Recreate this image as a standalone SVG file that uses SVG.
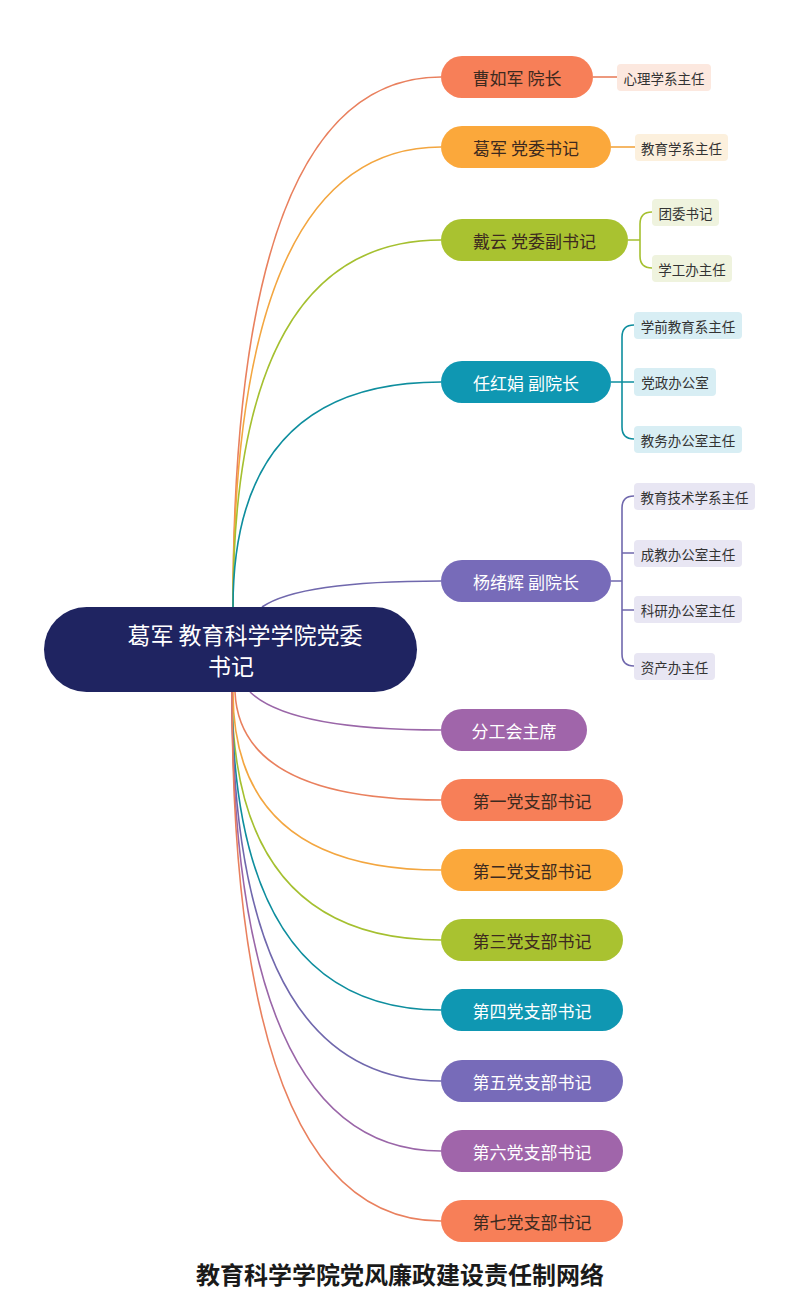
<svg xmlns="http://www.w3.org/2000/svg" width="800" height="1300" viewBox="0 0 800 1300">
<style>
text{font-family:"Noto Sans CJK SC","Noto Sans",sans-serif;text-anchor:middle;dominant-baseline:central}
.t1{font-size:17px}
.t2{font-size:13.5px;fill:#333}
.dk{fill:#3d2a1f}
.wt{fill:#ffffff}
.c{fill:none;stroke-width:1.6}
.root{fill:#1f2461}
.rt{font-size:23px;fill:#fff}
.title{font-size:24px;font-weight:bold;fill:#1a1a1a}
.coral{fill:#f77f58}.orange{fill:#fba83b}.green{fill:#a9c230}.teal{fill:#0f97b2}.blue{fill:#776bb9}.purple{fill:#a065aa}
.s-coral{stroke:#e9805e}.s-orange{stroke:#f3a640}.s-green{stroke:#a5c030}.s-teal{stroke:#0e8e9e}.s-blue{stroke:#7068ad}.s-purple{stroke:#9a66a8}
</style>
<rect width="800" height="1300" fill="#ffffff"/>
<g id="connectors">
<path class="c s-coral" d="M233,607 Q233,77 441,77"/>
<path class="c s-orange" d="M233,607 Q233,147 441,147"/>
<path class="c s-green" d="M233,607 Q233,240 441,240"/>
<path class="c s-teal" d="M233,607 Q233,382 441,382"/>
<path class="c s-blue" d="M262,607 Q300,581 441,581"/>
<path class="c s-purple" d="M250,692 Q290,730 441,730"/>
<path class="c s-coral" d="M235,692 Q240,800 441,800"/>
<path class="c s-orange" d="M233,692 Q233,870 441,870"/>
<path class="c s-green" d="M232,692 Q232,940 441,940"/>
<path class="c s-teal" d="M232,692 Q232,1010 441,1010"/>
<path class="c s-blue" d="M232,692 Q232,1081 441,1081"/>
<path class="c s-purple" d="M232,692 Q232,1151 441,1151"/>
<path class="c s-coral" d="M232,692 Q232,1221 441,1221"/>
<path class="c s-coral" d="M593,77 H617"/>
<path class="c s-orange" d="M611,147 H635"/>
<path class="c s-green" d="M628,240 H640 M652,212 Q640,212 640,224 V256 Q640,268 652,268"/>
<path class="c s-teal" d="M611,382 H634 M634,325 Q622,325 622,337 V427 Q622,439 634,439"/>
<path class="c s-blue" d="M611,581 H622 M634,496 Q622,496 622,508 V654 Q622,666 634,666 M622,553 H634 M622,610 H634"/>
</g>
<g id="root">
<rect class="root" x="44" y="607" width="373" height="85" rx="42.5"/>
<text class="rt" x="245" y="634">葛军 教育科学学院党委</text>
<text class="rt" x="231" y="665">书记</text>
</g>
<g id="n1"><rect class="coral" x="441" y="56" width="152" height="42" rx="21"/><text class="t1 dk" x="517" y="77">曹如军 院长</text></g>
<g id="n1a"><rect fill="#fce8df" x="617" y="64" width="94" height="27" rx="4"/><text class="t2" x="664" y="77.5">心理学系主任</text></g>
<g id="n2"><rect class="orange" x="441" y="126" width="170" height="42" rx="21"/><text class="t1 dk" x="526" y="147">葛军 党委书记</text></g>
<g id="n2a"><rect fill="#fcf0dd" x="635" y="134" width="93" height="27" rx="4"/><text class="t2" x="681.5" y="147.5">教育学系主任</text></g>
<g id="n3"><rect class="green" x="441" y="219" width="187" height="42" rx="21"/><text class="t1 dk" x="534.5" y="240">戴云 党委副书记</text></g>
<g id="n3a"><rect fill="#eff3de" x="652" y="199" width="67" height="27" rx="4"/><text class="t2" x="685.5" y="212.5">团委书记</text></g>
<g id="n3b"><rect fill="#eff3de" x="652" y="255" width="80" height="27" rx="4"/><text class="t2" x="692" y="268.5">学工办主任</text></g>
<g id="n4"><rect class="teal" x="441" y="361" width="170" height="42" rx="21"/><text class="t1 wt" x="526" y="382">任红娟 副院长</text></g>
<g id="n4a"><rect fill="#d8eef4" x="634" y="312" width="108" height="27" rx="4"/><text class="t2" x="688" y="325.5">学前教育系主任</text></g>
<g id="n4b"><rect fill="#d8eef4" x="634" y="368" width="82" height="28" rx="4"/><text class="t2" x="675" y="382">党政办公室</text></g>
<g id="n4c"><rect fill="#d8eef4" x="634" y="426" width="108" height="27" rx="4"/><text class="t2" x="688" y="439.5">教务办公室主任</text></g>
<g id="n5"><rect class="blue" x="441" y="560" width="170" height="42" rx="21"/><text class="t1 wt" x="526" y="581">杨绪辉 副院长</text></g>
<g id="n5a"><rect fill="#e8e6f3" x="634" y="483" width="121" height="27" rx="4"/><text class="t2" x="694.5" y="496.5">教育技术学系主任</text></g>
<g id="n5b"><rect fill="#e8e6f3" x="634" y="540" width="108" height="27" rx="4"/><text class="t2" x="688" y="553.5">成教办公室主任</text></g>
<g id="n5c"><rect fill="#e8e6f3" x="634" y="596" width="108" height="27" rx="4"/><text class="t2" x="688" y="609.5">科研办公室主任</text></g>
<g id="n5d"><rect fill="#e8e6f3" x="634" y="653" width="81" height="27" rx="4"/><text class="t2" x="674.5" y="666.5">资产办主任</text></g>
<g id="n6"><rect class="purple" x="441" y="709" width="146" height="42" rx="21"/><text class="t1 wt" x="514" y="730">分工会主席</text></g>
<g id="b1"><rect class="coral" x="441" y="779" width="182" height="42" rx="21"/><text class="t1 dk" x="532" y="800">第一党支部书记</text></g>
<g id="b2"><rect class="orange" x="441" y="849" width="182" height="42" rx="21"/><text class="t1 dk" x="532" y="870">第二党支部书记</text></g>
<g id="b3"><rect class="green" x="441" y="919" width="182" height="42" rx="21"/><text class="t1 dk" x="532" y="940">第三党支部书记</text></g>
<g id="b4"><rect class="teal" x="441" y="989" width="182" height="42" rx="21"/><text class="t1 wt" x="532" y="1010">第四党支部书记</text></g>
<g id="b5"><rect class="blue" x="441" y="1060" width="182" height="42" rx="21"/><text class="t1 wt" x="532" y="1081">第五党支部书记</text></g>
<g id="b6"><rect class="purple" x="441" y="1130" width="182" height="42" rx="21"/><text class="t1 wt" x="532" y="1151">第六党支部书记</text></g>
<g id="b7"><rect class="coral" x="441" y="1200" width="182" height="42" rx="21"/><text class="t1 dk" x="532" y="1221">第七党支部书记</text></g>
<g id="caption"><text class="title" x="400" y="1273">教育科学学院党风廉政建设责任制网络</text></g>
</svg>
